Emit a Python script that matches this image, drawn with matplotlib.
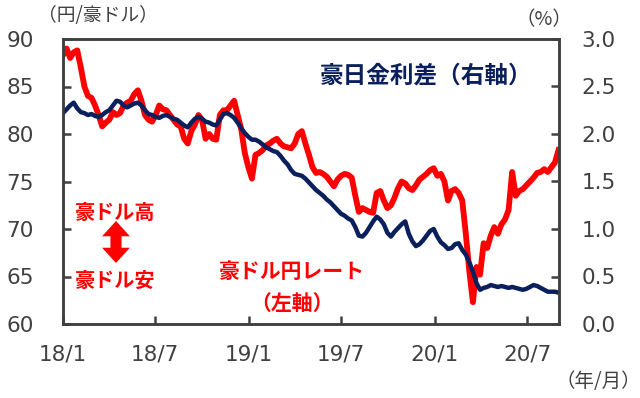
import numpy as np
import pandas as pd
import matplotlib
matplotlib.use("Agg")
import matplotlib.pyplot as plt
from matplotlib.patches import FancyArrowPatch

# 豪ドル円レート（左軸, 円/豪ドル）, 週次
aud_jpy = [
    88.3, 89.0, 88.0, 88.6, 88.8, 87.0, 85.0, 84.0, 83.8, 83.0,
    82.0, 80.8, 81.2, 81.5, 82.3, 82.0, 82.2, 83.0, 83.3, 83.5,
    84.2, 84.6, 83.5, 82.0, 81.5, 81.3, 82.0, 83.0, 82.6, 82.5,
    82.0, 81.5, 81.0, 80.8, 79.5, 79.0, 80.3, 81.0, 82.0, 81.5,
    79.5, 80.0, 79.5, 79.4, 82.0, 82.5, 82.5, 83.0, 83.5, 82.0,
    80.5, 78.0, 76.5, 75.3, 77.8, 78.0, 78.3, 78.8, 79.0, 79.3,
    79.5, 79.0, 78.7, 78.6, 78.5, 79.0, 80.0, 80.3, 79.0, 77.8,
    76.5, 75.9, 76.0, 75.8, 75.5, 75.0, 74.5, 75.2, 75.6, 75.8,
    75.7, 75.4, 73.5, 71.8, 72.2, 72.0, 71.8, 71.7, 73.8, 74.0,
    73.0, 72.2, 72.5, 73.3, 74.3, 75.0, 74.8, 74.3, 74.1, 74.6,
    75.2, 75.5, 75.8, 76.2, 76.4, 75.6, 75.8, 75.0, 73.0, 74.0,
    74.2, 73.8, 73.0, 69.5, 65.5, 62.3, 66.0, 65.2, 68.5, 68.0,
    69.3, 70.2, 69.5, 70.5, 71.0, 72.0, 76.0, 73.5, 74.0, 74.2,
    74.6, 75.0, 75.4, 75.9, 76.0, 76.3, 76.0, 76.5, 77.0, 78.3,
]

# 豪日金利差（右軸, %）, 週次
rate_diff = [
    2.22, 2.26, 2.30, 2.33, 2.27, 2.23, 2.22, 2.20, 2.21, 2.19,
    2.18, 2.20, 2.23, 2.25, 2.30, 2.35, 2.34, 2.30, 2.28, 2.30,
    2.32, 2.33, 2.30, 2.25, 2.21, 2.20, 2.18, 2.17, 2.19, 2.20,
    2.18, 2.16, 2.15, 2.12, 2.09, 2.07, 2.12, 2.16, 2.18, 2.16,
    2.13, 2.12, 2.10, 2.09, 2.15, 2.21, 2.22, 2.20, 2.17, 2.12,
    2.06, 2.01, 1.97, 1.94, 1.94, 1.92, 1.89, 1.86, 1.84, 1.82,
    1.81, 1.77, 1.72, 1.68, 1.62, 1.58, 1.57, 1.56, 1.53, 1.49,
    1.45, 1.41, 1.38, 1.35, 1.31, 1.28, 1.24, 1.20, 1.16, 1.14,
    1.11, 1.09, 1.02, 0.93, 0.92, 0.96, 1.02, 1.08, 1.13, 1.10,
    1.05, 0.96, 0.92, 0.97, 1.01, 1.05, 1.08, 0.95, 0.87, 0.82,
    0.84, 0.88, 0.93, 0.98, 1.00, 0.92, 0.86, 0.83, 0.79, 0.80,
    0.84, 0.85, 0.78, 0.73, 0.65, 0.55, 0.43, 0.36, 0.38, 0.39,
    0.41, 0.40, 0.39, 0.40, 0.39, 0.38, 0.39, 0.38, 0.37, 0.36,
    0.37, 0.39, 0.41, 0.40, 0.38, 0.36, 0.34, 0.34, 0.34, 0.33,
]

dates = pd.date_range("2018-01-01", periods=len(aud_jpy), freq="7D")

tick_dates = pd.to_datetime(["2018-01-01", "2018-07-01", "2019-01-01",
                             "2019-07-01", "2020-01-01", "2020-07-01"])
tick_labels = ["18/1", "18/7", "19/1", "19/7", "20/1", "20/7"]
left_ticks = [60, 65, 70, 75, 80, 85, 90]
right_ticks = [0.0, 0.5, 1.0, 1.5, 2.0, 2.5, 3.0]

red = "#ff0000"
navy = "#0b1f5c"
grey = "#404040"
jp = ["Noto Sans CJK JP", "DejaVu Sans"]

fig = plt.figure(figsize=(6.4, 3.98), dpi=100)
ax = fig.add_axes([63 / 640, 1 - 324 / 398, 496 / 640, 285 / 398])
ax2 = ax.twinx()

ax.plot(dates, aud_jpy, color=red, lw=4.2, solid_joinstyle="round")
ax2.plot(dates, rate_diff, color=navy, lw=3.2, solid_joinstyle="round")

ax.set_xlim(pd.Timestamp("2018-01-01"), pd.Timestamp("2020-09-01"))
ax.set_ylim(60, 90)
ax2.set_ylim(0, 3)

ax.set_xticks(tick_dates)
ax.set_xticklabels(tick_labels)
ax.set_yticks(left_ticks)
ax.set_yticklabels([str(v) for v in left_ticks])
ax2.set_yticks(right_ticks)
ax2.set_yticklabels(["%.1f" % v for v in right_ticks])

for a in (ax, ax2):
    for s in a.spines.values():
        s.set_color(grey)
        s.set_linewidth(1.8)
ax.tick_params(axis="x", direction="in", length=6, width=1.8, color=grey,
               labelsize=15.5, labelcolor=grey, pad=15)
ax.tick_params(axis="y", direction="in", length=6, width=1.8, color=grey,
               labelsize=15.5, labelcolor=grey, pad=21)
ax2.tick_params(axis="y", direction="in", length=6, width=1.8, color=grey,
                labelsize=15.5, labelcolor=grey, pad=16)

# 単位ラベル
fig.text(98 / 640, 1 - 15 / 398, "（円/豪ドル）", family=jp, fontsize=13.5,
         color=grey, ha="center", va="center")
fig.text(544 / 640, 1 - 20 / 398, "（%）", family=jp, fontsize=14,
         color=grey, ha="center", va="center")
fig.text(598 / 640, 1 - 382 / 398, "（年/月）", family=jp, fontsize=14,
         color=grey, ha="center", va="center")

# 系列ラベル
fig.text(426 / 640, 1 - 76 / 398, "豪日金利差（右軸）", family=jp, fontsize=17,
         fontweight="bold", color=navy, ha="center", va="center")
fig.text(292 / 640, 1 - 272 / 398, "豪ドル円レート", family=jp, fontsize=15,
         fontweight="bold", color=red, ha="center", va="center")
fig.text(292 / 640, 1 - 303 / 398, "（左軸）", family=jp, fontsize=15,
         fontweight="bold", color=red, ha="center", va="center")
fig.text(115 / 640, 1 - 212 / 398, "豪ドル高", family=jp, fontsize=14.5,
         fontweight="bold", color=red, ha="center", va="center")
fig.text(115 / 640, 1 - 280 / 398, "豪ドル安", family=jp, fontsize=14.5,
         fontweight="bold", color=red, ha="center", va="center")

# 上下矢印
mid = (116 / 640, 1 - 242 / 398)
for end in [(116 / 640, 1 - 221 / 398), (116 / 640, 1 - 263 / 398)]:
    fig.patches.append(FancyArrowPatch(
        mid, end, transform=fig.transFigure,
        arrowstyle="simple,head_length=1.1,head_width=2.0,tail_width=0.8",
        mutation_scale=10, color=red, lw=0, shrinkA=0, shrinkB=0))

fig.savefig("out.png", dpi=100)
